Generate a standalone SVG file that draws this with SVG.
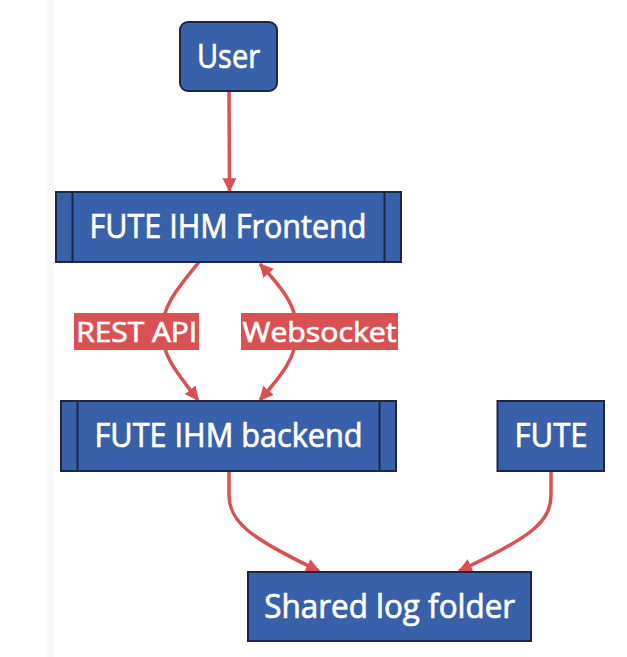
<svg xmlns="http://www.w3.org/2000/svg" width="627" height="657" viewBox="0 0 627 657">
<defs>
<style>
.node{fill:#3961a9;stroke:#1e2648;stroke-width:2}
.t{font-family:"Open Sans","Noto Sans","Liberation Sans",sans-serif;font-weight:400;fill:#ffffff;stroke:#ffffff;stroke-width:0.7;text-anchor:middle}
.nt{font-size:32px}
.lt{font-size:28px}
.edge{fill:none;stroke:#d95152;stroke-width:3.5}
.lbl{fill:#d95152}
</style>
<marker id="arr" viewBox="0 0 12 12" refX="11" refY="6" markerWidth="14" markerHeight="14" markerUnits="userSpaceOnUse" orient="auto-start-reverse">
<path d="M0,0 L12,6 L0,12 z" fill="#d95152"/>
</marker>
</defs>
<rect x="0" y="0" width="627" height="657" fill="#ffffff"/>
<rect x="47" y="0" width="7" height="657" fill="#f9f9f9"/>
<g id="connectors">
<path class="edge" d="M229,91 L229.5,191" marker-end="url(#arr)"/>
<path class="edge" d="M199,262 C178,288 162,306 162,331 C162,356 178,374 198,400" marker-end="url(#arr)"/>
<path class="edge" d="M260,400 C281,376 297,357 297,331 C297,306 282,288 260,264" marker-start="url(#arr)" marker-end="url(#arr)"/>
<path class="edge" d="M229,471 L229,495 C229,522 250,538 319,571" marker-end="url(#arr)"/>
<path class="edge" d="M551,471 L551,495 C551,522 530,538 459,571" marker-end="url(#arr)"/>
</g>
<g id="label-rest">
<rect class="lbl" x="74" y="313" width="125" height="37"/>
<text class="t lt" x="136.7" y="341.5" textLength="121" lengthAdjust="spacingAndGlyphs">REST API</text>
</g>
<g id="label-websocket">
<rect class="lbl" x="241" y="313" width="157" height="37"/>
<text class="t lt" x="319.5" y="341.5" textLength="154" lengthAdjust="spacingAndGlyphs">Websocket</text>
</g>
<g id="user">
<rect class="node" x="180" y="22" width="97" height="69" rx="8" ry="8"/>
<text class="t nt" x="228.5" y="68.3" textLength="63" lengthAdjust="spacingAndGlyphs">User</text>
</g>
<g id="frontend">
<rect class="node" x="56" y="192" width="345" height="70"/>
<line x1="72.5" y1="192" x2="72.5" y2="262" stroke="#1e2648" stroke-width="2"/>
<line x1="384.5" y1="192" x2="384.5" y2="262" stroke="#1e2648" stroke-width="2"/>
<text class="t nt" x="228" y="238.3" textLength="277" lengthAdjust="spacingAndGlyphs">FUTE IHM Frontend</text>
</g>
<g id="backend">
<rect class="node" x="61" y="401" width="335" height="70"/>
<line x1="77.5" y1="401" x2="77.5" y2="471" stroke="#1e2648" stroke-width="2"/>
<line x1="379.5" y1="401" x2="379.5" y2="471" stroke="#1e2648" stroke-width="2"/>
<text class="t nt" x="228.5" y="447.3" textLength="268" lengthAdjust="spacingAndGlyphs">FUTE IHM backend</text>
</g>
<g id="fute">
<rect class="node" x="497.5" y="401" width="106.5" height="70"/>
<text class="t nt" x="551" y="447.3" textLength="73" lengthAdjust="spacingAndGlyphs">FUTE</text>
</g>
<g id="shared">
<rect class="node" x="248" y="572" width="283" height="69"/>
<text class="t nt" x="389.7" y="618.3" textLength="251" lengthAdjust="spacingAndGlyphs">Shared log folder</text>
</g>
</svg>
